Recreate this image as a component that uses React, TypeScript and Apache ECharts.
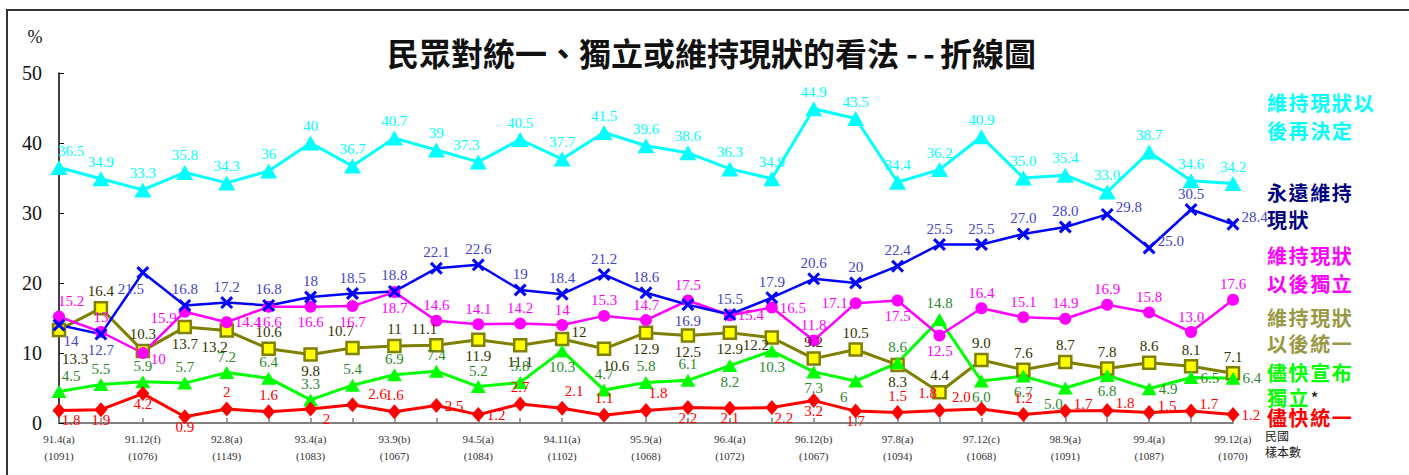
import React, { useEffect, useRef } from "react";
import * as echarts from "echarts";

// ---- data ----
const surveyDates = ["91.4(a)", "91.12(f)", "92.8(a)", "93.4(a)", "93.9(b)", "94.5(a)", "94.11(a)", "95.9(a)", "96.4(a)", "96.12(b)", "97.8(a)", "97.12(c)", "98.9(a)", "99.4(a)", "99.12(a)"];
const sampleSizes = ["(1091)", "(1076)", "(1149)", "(1083)", "(1067)", "(1084)", "(1102)", "(1068)", "(1072)", "(1067)", "(1094)", "(1068)", "(1091)", "(1087)", "(1070)"];

const decideLater = [36.5, 34.9, 33.3, 35.8, 34.3, 36, 40, 36.7, 40.7, 39, 37.3, 40.5, 37.7, 41.5, 39.6, 38.6, 36.3, 34.9, 44.9, 43.5, 34.4, 36.2, 40.9, 35.0, 35.4, 33.0, 38.7, 34.6, 34.2];
const statusQuoForever = [14, 12.7, 21.5, 16.8, 17.2, 16.8, 18, 18.5, 18.8, 22.1, 22.6, 19, 18.4, 21.2, 18.6, 16.9, 15.5, 17.9, 20.6, 20, 22.4, 25.5, 25.5, 27.0, 28.0, 29.8, 25.0, 30.5, 28.4];
const laterIndependence = [15.2, 13, 10, 15.9, 14.4, 16.6, 16.6, 16.7, 18.7, 14.6, 14.1, 14.2, 14, 15.3, 14.7, 17.5, 15.4, 16.5, 11.8, 17.1, 17.5, 12.5, 16.4, 15.1, 14.9, 16.9, 15.8, 13.0, 17.6];
const laterUnification = [13.3, 16.4, 10.3, 13.7, 13.2, 10.6, 9.8, 10.7, 11, 11.1, 11.9, 11.1, 12, 10.6, 12.9, 12.5, 12.9, 12.2, 9.2, 10.5, 8.3, 4.4, 9.0, 7.6, 8.7, 7.8, 8.6, 8.1, 7.1];
const independenceASAP = [4.5, 5.5, 5.9, 5.7, 7.2, 6.4, 3.3, 5.4, 6.9, 7.4, 5.2, 5.8, 10.3, 4.7, 5.8, 6.1, 8.2, 10.3, 7.3, 6, 8.6, 14.8, 6.0, 6.7, 5.0, 6.8, 4.9, 6.5, 6.4];
const unificationASAP = [1.8, 1.9, 4.2, 0.9, 2, 1.6, 2, 2.6, 1.6, 2.5, 1.2, 2.7, 2.1, 1.1, 1.8, 2.2, 2.1, 2.2, 3.2, 1.7, 1.5, 1.8, 2.0, 1.2, 1.7, 1.8, 1.5, 1.7, 1.2];

const yTicks = [0, 10, 20, 30, 40, 50];

const legendDecideLater = ["維持現狀以", "後再決定"];
const legendForever = ["永遠維持", "現狀"];
const legendLaterIndep = ["維持現狀", "以後獨立"];
const legendLaterUnif = ["維持現狀", "以後統一"];
const legendIndepASAP = ["儘快宣布", "獨立"];
const legendUnifASAP = ["儘快統一"];

// ---- label placement (style) ----
type Pos = string | number[];
const cyanPos: Pos[] = ["tr", "t", "t", "t", "t", "t", "t", "t", "t", "t", "tl", "t", "t", "t", "t", "t", "t", "t", "t", "t", "t", "t", "t", "t", "t", "t", "t", "t", "t"];
const bluePos: Pos[] = ["br", "b", "bl", "t", "t", "t", "t", "t", "t", "t", "t", "t", "t", "t", "t", "b", "t", "t", "t", "t", "t", "t", "t", "t", "t", "rt", "rt", "t", "rt"];
const pinkPos: Pos[] = ["tr", "t", "rb", "lb", "r", "b", "b", "b", "b", "t", "t", "t", "t", "t", "t", "t", "r", "r", "t", "l", "b", "b", "t", "t", "t", "t", "t", "t", "t"];
const olivePos: Pos[] = [[16, 29], "t", "t", "b", "bl", "t", "b", "tl", "t", "tl", "b", "b", "rt", "br", "b", "b", "b", [-16, 7], "t", "t", "b", "t", "t", "t", "t", "t", "t", "t", "t"];
const greenPos: Pos[] = ["tr", "t", "t", "t", "t", "t", "t", "t", "t", "t", "t", "t", "b", "t", "t", "t", "b", "b", "b", "bl", "t", "t", "b", "b", "bl", "b", "r", "r", "r"];
const redPos: Pos[] = ["br", "b", "b", "b", "t", "t", [16, 10], [25, -11], "t", "r", "r", "t", "tr", "t", "tr", "b", "b", "br", "b", "b", "t", "tl", [-20, -12], "t", "rt", "rt", "rt", "rt", "r"];

const posMap: Record<string, [string, number[]]> = {
  t: ["top", [0, 0]],
  b: ["bottom", [0, 0]],
  l: ["left", [0, 0]],
  r: ["right", [0, 0]],
  tr: ["top", [12, 0]],
  tl: ["top", [-12, 0]],
  br: ["bottom", [12, 0]],
  bl: ["bottom", [-12, 0]],
  rt: ["right", [0, -7]],
  rb: ["right", [0, 6]],
  lb: ["left", [0, 6]],
};

const labelCfg = (p: Pos, bottomShift: number) => {
  if (Array.isArray(p)) return { position: "inside", offset: p };
  const [position, offset] = posMap[p];
  const dy = position === "bottom" ? bottomShift : 0;
  return { position, offset: [offset[0], offset[1] + dy] };
};

const fmt = (v: number, i: number) => (i >= 22 ? v.toFixed(1) : String(v));

const SERIF = "'Liberation Serif', 'Times New Roman', serif";
const SANS = "'Noto Sans CJK TC', 'Noto Sans', sans-serif";

const crossPath = "path://M2,0 L6,4 L10,0 L12,2 L8,6 L12,10 L10,12 L6,8 L2,12 L0,10 L4,6 L0,2 Z";

function makeSeries(name: string, values: number[], pos: Pos[], opts: any) {
  return {
    name,
    type: "line",
    data: values.map((v, i) => ({ value: v, label: labelCfg(pos[i], opts.bottomShift || 0) })),
    symbol: opts.symbol,
    symbolSize: opts.symbolSize,
    lineStyle: { color: opts.lineColor, width: opts.lineWidth },
    itemStyle: opts.itemStyle,
    label: {
      show: true,
      formatter: (p: any) => fmt(p.value, p.dataIndex),
      color: opts.labelColor,
      fontFamily: SERIF,
      fontSize: 15,
      distance: 2,
    },
    emphasis: { disabled: true },
  };
}

// legend text drawn character by character to reproduce the wide letter pitch
function legendBlock(lines: string[], x: number, yTop: number, color: string, lineHeight: number) {
  const pitch = 21.6;
  const out: any[] = [];
  lines.forEach((line, li) => {
    Array.from(line).forEach((ch, ci) => {
      out.push({
        type: "text",
        style: {
          text: ch,
          x: x + ci * pitch,
          y: yTop + li * lineHeight,
          fill: color,
          fontFamily: SANS,
          fontWeight: "bold",
          fontSize: 20,
          textAlign: "left",
          textVerticalAlign: "middle",
        },
      });
    });
  });
  return out;
}

export default function App() {
  const ref = useRef<HTMLDivElement>(null);
  useEffect(() => {
    document.body.style.margin = "0";
    const chart = echarts.init(ref.current!, undefined, { renderer: "svg" });
    const cats = decideLater.map((_, i) => String(i));
    const legendX = 1267;
    const titleStyle = { fill: "#111", fontFamily: SANS, fontWeight: "bold", fontSize: 32, textVerticalAlign: "middle" };
    const option: any = {
      animation: false,
      backgroundColor: "#ffffff",
      grid: { left: 59, right: 176, top: 73, bottom: 52, containLabel: false },
      xAxis: {
        type: "category",
        data: cats,
        boundaryGap: false,
        axisLine: { lineStyle: { color: "#808080", width: 2 } },
        axisTick: { show: true, inside: true, length: 5, interval: 0, lineStyle: { color: "#808080", width: 1.5 } },
        axisLabel: {
          interval: 1,
          margin: 7,
          fontFamily: SERIF,
          fontSize: 11,
          lineHeight: 17,
          color: "#333",
          formatter: (_v: string, i: number) => (i % 2 === 0 ? surveyDates[i / 2] + "\n" + sampleSizes[i / 2] : ""),
        },
        splitLine: { show: false },
      },
      yAxis: {
        type: "value",
        min: yTicks[0],
        max: yTicks[yTicks.length - 1],
        interval: 10,
        axisLine: { show: true, lineStyle: { color: "#000", width: 1.5 } },
        axisTick: { show: true, inside: true, length: 5, lineStyle: { color: "#000" } },
        axisLabel: { fontFamily: SERIF, fontSize: 20, color: "#111", margin: 17 },
        splitLine: { show: false },
      },
      series: [
        makeSeries("維持現狀以後統一", laterUnification, olivePos, {
          symbol: "rect", symbolSize: 12, lineColor: "#808000", lineWidth: 3,
          itemStyle: { color: "#FFFF00", borderColor: "#808000", borderWidth: 2.5 },
          labelColor: "#333300",
        }),
        makeSeries("儘快宣布獨立", independenceASAP, greenPos, {
          symbol: "triangle", symbolSize: [15, 13], lineColor: "#00FF00", lineWidth: 3,
          itemStyle: { color: "#00FF00" }, labelColor: "#2a8a2a",
        }),
        makeSeries("儘快統一", unificationASAP, redPos, {
          symbol: "diamond", symbolSize: [13, 15], lineColor: "#FF0000", lineWidth: 3,
          itemStyle: { color: "#FF0000" }, labelColor: "#FF0000", bottomShift: -7,
        }),
        makeSeries("維持現狀以後獨立", laterIndependence, pinkPos, {
          symbol: "circle", symbolSize: 12, lineColor: "#FF00FF", lineWidth: 2.5,
          itemStyle: { color: "#FF00FF" }, labelColor: "#FF00FF",
        }),
        makeSeries("永遠維持現狀", statusQuoForever, bluePos, {
          symbol: crossPath, symbolSize: 13, lineColor: "#0000FF", lineWidth: 2.5,
          itemStyle: { color: "#0000FF" }, labelColor: "#4444CC",
        }),
        makeSeries("維持現狀以後再決定", decideLater, cyanPos, {
          symbol: "triangle", symbolSize: [17, 15], lineColor: "#00FFFF", lineWidth: 3,
          itemStyle: { color: "#00FFFF" }, labelColor: "#00FFFF",
        }),
      ],
      graphic: [
        { type: "rect", z: -1, shape: { x: 7, y: 10, width: 1600, height: 700 }, style: { fill: "none", stroke: "#333", lineWidth: 2 } },
        { type: "text", style: { text: "%", x: 35, y: 37, fill: "#111", fontFamily: SERIF, fontSize: 18, textAlign: "center", textVerticalAlign: "middle" } },
        { type: "text", style: { ...titleStyle, text: "民眾對統一、獨立或維持現狀的看法", x: 387, y: 52, textAlign: "left" } },
        { type: "text", style: { ...titleStyle, text: "-", x: 912, y: 52, textAlign: "center" } },
        { type: "text", style: { ...titleStyle, text: "-", x: 929, y: 52, textAlign: "center" } },
        { type: "text", style: { ...titleStyle, text: "折線圖", x: 1036, y: 52, textAlign: "right" } },
        ...legendBlock(legendDecideLater, legendX, 102, "#00FFFF", 28),
        ...legendBlock(legendForever, legendX, 192, "#000080", 27),
        ...legendBlock(legendLaterIndep, legendX, 255, "#FF00FF", 28),
        ...legendBlock(legendLaterUnif, legendX, 317, "#999944", 26),
        ...legendBlock(legendIndepASAP, legendX, 372, "#00FF00", 25),
        { type: "text", style: { text: "*", x: 1311, y: 390, fill: "#222", fontFamily: SANS, fontWeight: "bold", fontSize: 14, textVerticalAlign: "top" } },
        ...legendBlock(legendUnifASAP, legendX, 417, "#FF0000", 28),
        { type: "text", style: { text: "民國", x: 1265, y: 435, fill: "#222", fontFamily: SANS, fontSize: 12, textVerticalAlign: "middle" } },
        { type: "text", style: { text: "樣本數", x: 1265, y: 451, fill: "#222", fontFamily: SANS, fontSize: 12, textVerticalAlign: "middle" } },
      ],
    };
    chart.setOption(option);
    return () => chart.dispose();
  }, []);
  return <div ref={ref} style={{ width: 1409, height: 475 }} />;
}
